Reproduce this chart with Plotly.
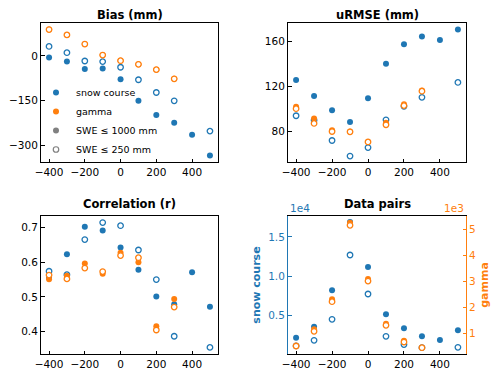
import plotly.graph_objects as go

# SWE offset (mm) on the x axis
offsets = [-400, -300, -200, -100, 0, 100, 200, 300, 400, 500]
offsets_gamma = [-400, -300, -200, -100, 0, 100, 200, 300]

# Bias (mm)
sc_bias_1000 = [-5, -19, -44, -42, -78, -151, -199, -225, -265, -335]
sc_bias_250 = [32, 11, -17, -19, -38, -80, -123, -151, None, -253]
gm_bias_1000 = [89, 71, 40, 3, -16, -28, -46, -77]
gm_bias_250 = [89, 71, 40, 3, -16, -28, -46, -77]

# uRMSE (mm)
sc_urmse_1000 = [125.7, 111.6, 98.8, 88.4, 109.6, 140.3, 157.6, 164.5, 161.2, 170.7]
sc_urmse_250 = [94.0, 90.0, 72.0, 58.2, 65.7, 90.4, 102.4, 110.4, None, 123.6]
gm_urmse_1000 = [102.1, 91.6, 81.2, 80.0, 70.7, 87.8, 104.2, 116.4]
gm_urmse_250 = [100.3, 87.2, 80.0, 79.7, 70.7, 86.0, 103.0, 115.8]

# Correlation (r)
sc_r_1000 = [0.555, 0.623, 0.702, 0.691, 0.642, 0.578, 0.501, 0.479, 0.571, 0.472]
sc_r_250 = [0.574, 0.564, 0.665, 0.714, 0.705, 0.635, 0.550, 0.387, None, 0.355]
gm_r_1000 = [0.551, 0.561, 0.596, 0.567, 0.627, 0.600, 0.416, 0.494]
gm_r_250 = [0.563, 0.552, 0.583, 0.573, 0.619, 0.613, 0.405, 0.471]

# Data pairs (counts)
sc_n_1000 = [2150, 3550, 8190, 16900, 11170, 5130, 3340, 2320, 1850, 3090]
sc_n_250 = [1090, 1810, 4490, 12700, 7720, 2320, 1260, 870, None, 910]
gm_n_1000 = [513, 1154, 2308, 5256, 3090, 1372, 718, 449]
gm_n_250 = [513, 1077, 2218, 5154, 3010, 1308, 667, 449]

BLUE = "#1f77b4"
ORANGE = "#ff7f0e"
FONT = "DejaVu Sans"
MS = 6

# the page body has an 8px margin, so lay out in window pixels minus 8
OFF = 8
W, H = 500 - OFF, 374 - OFF


def px(x):
    return (x - OFF) / W


def py(y):
    return 1 - (y - OFF) / H


fig = go.Figure()


def add_series(x, y, color, filled, xa, ya):
    if filled:
        marker = dict(size=MS, color=color, line=dict(width=0))
    else:
        marker = dict(size=MS - 0.5, color="white", line=dict(width=1.3, color=color))
    fig.add_trace(go.Scatter(x=x, y=y, mode="markers", marker=marker,
                             showlegend=False, hoverinfo="skip",
                             xaxis=xa, yaxis=ya))


panels = [
    ("x", "y", sc_bias_1000, sc_bias_250, gm_bias_1000, gm_bias_250, "y"),
    ("x2", "y2", sc_urmse_1000, sc_urmse_250, gm_urmse_1000, gm_urmse_250, "y2"),
    ("x3", "y3", sc_r_1000, sc_r_250, gm_r_1000, gm_r_250, "y3"),
    ("x4", "y4", sc_n_1000, sc_n_250, gm_n_1000, gm_n_250, "y5"),
]
for xa, ya, s1, s2, g1, g2, gya in panels:
    add_series(offsets, s1, BLUE, True, xa, ya)
    add_series(offsets, s2, BLUE, False, xa, ya)
    add_series(offsets_gamma, g1, ORANGE, True, xa, gya)
    add_series(offsets_gamma, g2, ORANGE, False, xa, gya)

# legend entries
legend_items = [
    ("snow course", dict(size=6, color=BLUE)),
    ("gamma", dict(size=6, color=ORANGE)),
    ("SWE \u2264 1000 mm", dict(size=6, color="gray")),
    ("SWE \u2264 250 mm", dict(size=5.5, color="white", line=dict(width=1.2, color="gray"))),
]
for name, mk in legend_items:
    fig.add_trace(go.Scatter(x=[None], y=[None], mode="markers", name=name,
                             marker=mk, xaxis="x", yaxis="y"))

tickfont = dict(family=FONT, size=10.5, color="black")
common_x = dict(range=[-445, 545], tickvals=[-400, -200, 0, 200, 400],
                ticks="inside", ticklen=3.5, tickwidth=1, tickcolor="black",
                showline=True, linecolor="black", linewidth=1, mirror=True,
                showgrid=False, zeroline=False, tickfont=tickfont,
                automargin=False)
common_y = dict(ticks="inside", ticklen=3.5, tickwidth=1, tickcolor="black",
                showline=True, linecolor="black", linewidth=1, mirror=True,
                showgrid=False, zeroline=False, tickfont=tickfont,
                automargin=False)

left = [px(41), px(218)]
right = [px(288), px(466)]
top = [py(162), py(23)]
bot = [py(354), py(216)]

fig.update_layout(
    width=W, height=H, autosize=False,
    margin=dict(l=0, r=0, t=0, b=0, pad=0),
    paper_bgcolor="white", plot_bgcolor="white",
    font=dict(family=FONT, size=10.5, color="black"),
    xaxis=dict(common_x, domain=left, anchor="y"),
    yaxis=dict(common_y, domain=top, anchor="x", range=[-357, 111],
               tickvals=[-300, -150, 0]),
    xaxis2=dict(common_x, domain=right, anchor="y2"),
    yaxis2=dict(common_y, domain=top, anchor="x2", range=[52.9, 176.4],
                tickvals=[80, 120, 160]),
    xaxis3=dict(common_x, domain=left, anchor="y3"),
    yaxis3=dict(common_y, domain=bot, anchor="x3", range=[0.336, 0.7328],
                tickvals=[0.4, 0.5, 0.6, 0.7], ticktext=["0.4", "0.5", "0.6", "0.7"]),
    xaxis4=dict(common_x, domain=right, anchor="y4"),
    yaxis4=dict(common_y, domain=bot, anchor="x4", range=[60, 17680],
                tickvals=[5000, 10000, 15000], ticktext=["0.5", "1.0", "1.5"],
                linecolor=BLUE, tickcolor=BLUE, mirror=False,
                tickfont=dict(family=FONT, size=10.5, color=BLUE),
                title=dict(text="<b>snow course</b>", standoff=5,
                           font=dict(family=FONT, size=11, color=BLUE))),
    yaxis5=dict(common_y, overlaying="y4", anchor="x4", side="right",
                range=[205, 5513], tickvals=[1000, 2000, 3000, 4000, 5000],
                ticktext=["1", "2", "3", "4", "5"],
                linecolor=ORANGE, tickcolor=ORANGE, mirror=False,
                tickfont=dict(family=FONT, size=10.5, color=ORANGE),
                title=dict(text="<b>gamma</b>", standoff=5,
                           font=dict(family=FONT, size=11, color=ORANGE))),
    legend=dict(x=px(36), y=py(164), xanchor="left", yanchor="bottom",
                bgcolor="rgba(0,0,0,0)", borderwidth=0,
                font=dict(family=FONT, size=9.5), tracegroupgap=0,
                itemwidth=30),
)

titles = [
    ("Bias (mm)", 129.5, 15),
    ("uRMSE (mm)", 377, 15),
    ("Correlation (r)", 129.5, 204),
    ("Data pairs", 377, 204),
]
for text, x, y in titles:
    fig.add_annotation(text=f"<b>{text}</b>", x=px(x), y=py(y), xref="paper", yref="paper",
                       showarrow=False, xanchor="center", yanchor="middle",
                       font=dict(family=FONT, size=11.5, color="black"))

fig.add_annotation(text="1e4", x=px(288), y=py(208), xref="paper", yref="paper",
                   showarrow=False, xanchor="left", yanchor="middle",
                   font=dict(family=FONT, size=10.5, color=BLUE))
fig.add_annotation(text="1e3", x=px(466), y=py(208), xref="paper", yref="paper",
                   showarrow=False, xanchor="right", yanchor="middle",
                   font=dict(family=FONT, size=10.5, color=ORANGE))

fig.write_html("out.html")
